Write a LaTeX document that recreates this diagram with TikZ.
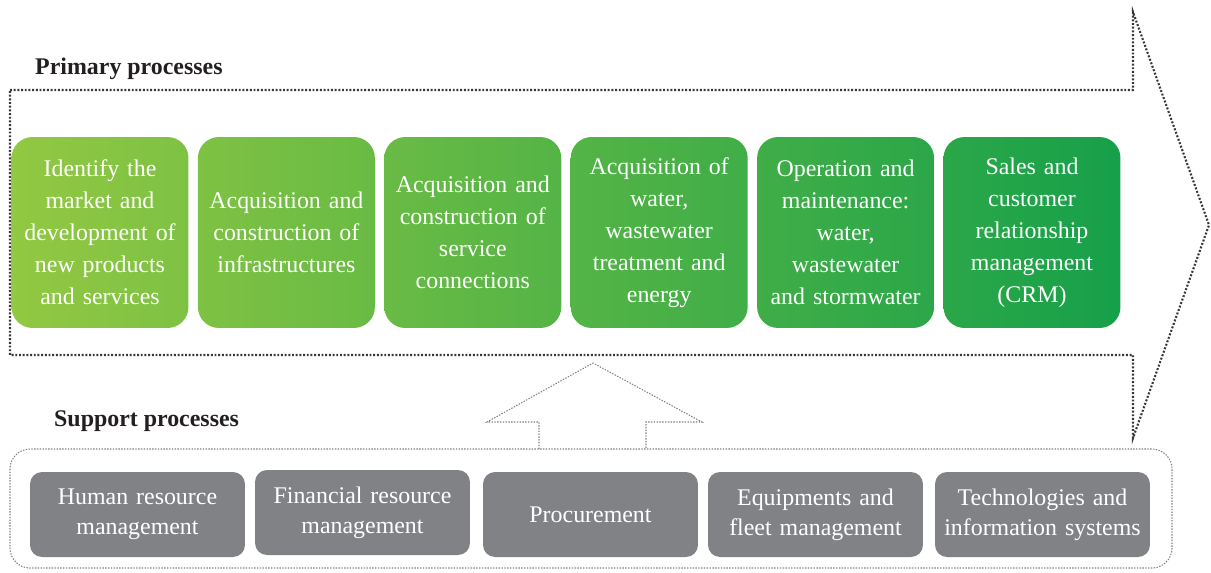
\documentclass[tikz,border=0pt]{standalone}
\usepackage{fontspec}
\setmainfont{Liberation Serif}
\usetikzlibrary{positioning}

\definecolor{lightgreen}{RGB}{146,200,66}
\definecolor{darkgreen}{RGB}{22,160,74}
\definecolor{boxgray}{RGB}{128,130,133}
\definecolor{dotgray}{RGB}{55,55,55}
\definecolor{titleblack}{RGB}{35,31,32}

\tikzset{
  stage/.style={rounded corners=0.42cm, minimum width=3.54cm, minimum height=3.82cm,
    inner sep=2pt, text width=3.3cm, align=center, text=white,
    font=\fontsize{13.6}{18.2}\selectfont},
  support/.style={rounded corners=0.24cm, fill=boxgray, minimum width=4.3cm, minimum height=1.7cm,
    inner sep=2pt, text width=4.1cm, align=center, text=white,
    font=\fontsize{13.6}{17.2}\selectfont},
  heading/.style={text=titleblack, font=\fontsize{13.6}{16}\selectfont\bfseries},
  bigdots/.style={draw=dotgray, line width=1.2pt, dash pattern=on 1.1pt off 1pt},
  smalldots/.style={draw=gray, line width=0.6pt, dash pattern=on 0.8pt off 0.8pt}
}

\begin{document}
\begin{tikzpicture}[x=0.02cm, y=-0.02cm]

\useasboundingbox (0,0) rectangle (1211,572);

% corner points of the big arrow
\coordinate (p1) at (10,90);
\coordinate (p2) at (1133,90);
\coordinate (p3) at (1133,12);
\coordinate (tip) at (1209,225);
\coordinate (p5) at (1133,438);
\coordinate (p6) at (1133,355);
\coordinate (p7) at (10,355);

\draw[bigdots] (p1) -- (p2) -- (p3) -- (tip) -- (p5) -- (p6) -- (p7) -- cycle;

\node[heading, anchor=west] (primary) at (29,69) {Primary processes};

% primary stages, shaded from light to dark green
\foreach \i/\txt in {0/{Identify the\\market and\\development of\\new products\\and services},
                     1/{Acquisition and\\construction of\\infrastructures},
                     2/{Acquisition and\\construction of\\service\\connections},
                     3/{Acquisition of\\water,\\wastewater\\treatment and\\energy},
                     4/{Operation and\\maintenance:\\water,\\wastewater\\and stormwater},
                     5/{Sales and\\customer\\relationship\\management\\(CRM)}}
{
  \pgfmathtruncatemacro\lo{\i*100/6}
  \pgfmathtruncatemacro\hi{(\i+1)*100/6}
  \node[stage, left color=darkgreen!\lo!lightgreen, right color=darkgreen!\hi!lightgreen]
    (stage\i) at (100+186.4*\i,232.5) {\txt};
}

% support frame and the arrow pointing up into the primary chain
\draw[smalldots, rounded corners=0.4cm] (10,449) rectangle (1172,568);

\coordinate (a1) at (539,449);
\coordinate (a2) at (539,422);
\coordinate (a3) at (487,422);
\coordinate (atip) at (593,363);
\coordinate (a5) at (702,422);
\coordinate (a6) at (646,422);
\coordinate (a7) at (646,449);

\draw[smalldots] (a1) -- (a2) -- (a3) -- (atip) -- (a5) -- (a6) -- (a7);

\node[heading, anchor=west] (supportlabel) at (48,421) {Support processes};

\node[support] (hr) at (137.5,514.5) {Human resource\\management};
\node[support] (fin) at (362.5,512.5) {Financial resource\\management};
\node[support] (proc) at (590.5,514.5) {Procurement};
\node[support] (fleet) at (815.5,514.5) {Equipments and\\fleet management};
\node[support] (tech) at (1042.5,514.5) {Technologies and\\information systems};

\end{tikzpicture}
\end{document}
